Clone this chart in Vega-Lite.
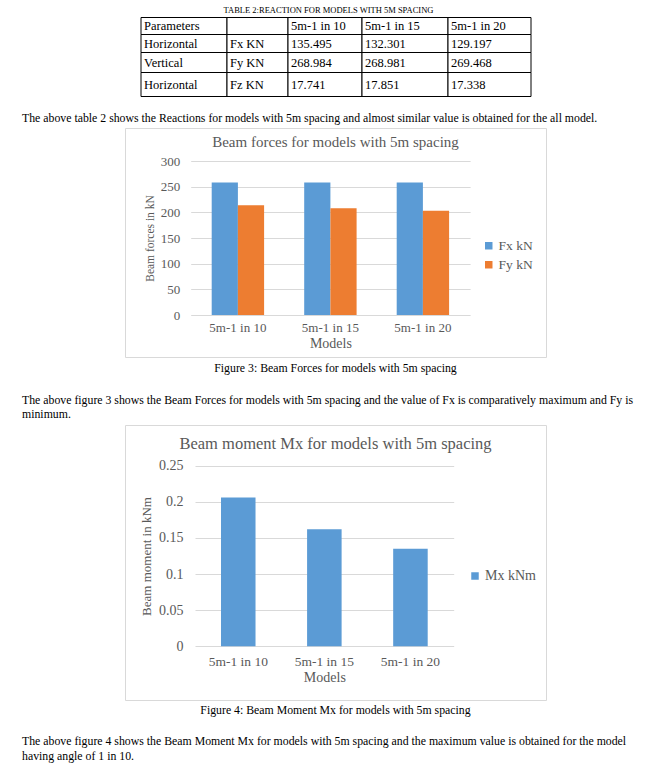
{
  "$schema": "https://vega.github.io/schema/vega-lite/v6.json",
  "background": "white",
  "padding": {"left": 22, "top": 0, "right": 10, "bottom": 0},
  "autosize": {"type": "pad"},
  "config": {"view": {"stroke": null}, "font": "Liberation Serif"},
  "datasets": {
    "table": [
      {"r": 0, "c": 0, "t": "Parameters"}, {"r": 0, "c": 1, "t": ""}, {"r": 0, "c": 2, "t": "5m-1 in 10"}, {"r": 0, "c": 3, "t": "5m-1 in 15"}, {"r": 0, "c": 4, "t": "5m-1 in 20"},
      {"r": 1, "c": 0, "t": "Horizontal"}, {"r": 1, "c": 1, "t": "Fx KN"}, {"r": 1, "c": 2, "t": "135.495"}, {"r": 1, "c": 3, "t": "132.301"}, {"r": 1, "c": 4, "t": "129.197"},
      {"r": 2, "c": 0, "t": "Vertical"}, {"r": 2, "c": 1, "t": "Fy KN"}, {"r": 2, "c": 2, "t": "268.984"}, {"r": 2, "c": 3, "t": "268.981"}, {"r": 2, "c": 4, "t": "269.468"},
      {"r": 3, "c": 0, "t": "Horizontal"}, {"r": 3, "c": 1, "t": "Fz KN"}, {"r": 3, "c": 2, "t": "17.741"}, {"r": 3, "c": 3, "t": "17.851"}, {"r": 3, "c": 4, "t": "17.338"}
    ],
    "forces": [
      {"model": "5m-1 in 10", "series": "Fx kN", "value": 258},
      {"model": "5m-1 in 10", "series": "Fy kN", "value": 214},
      {"model": "5m-1 in 15", "series": "Fx kN", "value": 258},
      {"model": "5m-1 in 15", "series": "Fy kN", "value": 208},
      {"model": "5m-1 in 20", "series": "Fx kN", "value": 258},
      {"model": "5m-1 in 20", "series": "Fy kN", "value": 203}
    ],
    "moment": [
      {"model": "5m-1 in 10", "series": "Mx kNm", "value": 0.206},
      {"model": "5m-1 in 15", "series": "Mx kNm", "value": 0.162},
      {"model": "5m-1 in 20", "series": "Mx kNm", "value": 0.135}
    ],
    "text": [
      {"block": "p1", "line": 0, "kind": "para", "text": "The above table 2 shows the Reactions for models with 5m spacing and almost similar value is obtained for the all model."},
      {"block": "d", "line": 0, "kind": "caption", "text": "Figure 3: Beam Forces for models with 5m spacing"},
      {"block": "d", "line": 1, "kind": "para", "text": "The above figure 3 shows the Beam Forces for models with 5m spacing and the value of Fx is comparatively maximum and Fy is"},
      {"block": "d", "line": 2, "kind": "para", "text": "minimum."},
      {"block": "f", "line": 0, "kind": "caption", "text": "Figure 4: Beam Moment Mx for models with 5m spacing"},
      {"block": "f", "line": 1, "kind": "para", "text": "The above figure 4 shows the Beam Moment Mx for models with 5m spacing and the maximum value is obtained for the model"},
      {"block": "f", "line": 2, "kind": "para", "text": "having angle of 1 in 10."}
    ]
  },
  "spacing": 0,
  "bounds": "flush",
  "center": true,
  "resolve": {"scale": {"color": "independent", "x": "independent", "y": "independent"}, "legend": {"color": "independent"}},
  "vconcat": [
    {
      "width": 390, "height": 108,
      "data": {"name": "table"},
      "title": {"text": "TABLE 2:REACTION FOR MODELS WITH 5M SPACING", "fontSize": 8.5, "font": "Liberation Serif", "fontWeight": "normal", "color": "black", "anchor": "middle", "frame": "group", "offset": -14, "dx": -7},
      "transform": [
        {"calculate": "datum.c + 1", "as": "c1"},
        {"calculate": "datum.r + 1", "as": "r1"},
        {"calculate": "datum.r + 0.5", "as": "rm"}
      ],
      "layer": [
        {
          "mark": {"type": "rect", "fill": "white", "stroke": "black", "strokeWidth": 1},
          "encoding": {
            "x": {"field": "c", "type": "quantitative", "scale": {"domain": [0, 1, 2, 3, 4, 5], "range": [0.5, 86.5, 147.5, 221.5, 307.5, 390.5], "zero": false, "nice": false}, "axis": null},
            "x2": {"field": "c1"},
            "y": {"field": "r", "type": "quantitative", "scale": {"domain": [0, 1, 2, 3, 4], "range": [17.5, 34.5, 52.5, 72.5, 96.5], "zero": false, "nice": false}, "axis": null},
            "y2": {"field": "r1"}
          }
        },
        {
          "mark": {"type": "text", "align": "left", "baseline": "middle", "dx": 3, "fontSize": 12.5, "font": "Liberation Serif", "color": "black"},
          "encoding": {
            "x": {"field": "c", "type": "quantitative"},
            "y": {"field": "rm", "type": "quantitative"},
            "text": {"field": "t"}
          }
        }
      ]
    },
    {
      "width": 627, "height": 20,
      "data": {"name": "text"},
      "transform": [{"filter": "datum.block == 'p1'"}],
      "mark": {"type": "text", "align": "left", "baseline": "middle", "fontSize": 11.8, "font": "Liberation Serif", "color": "black"},
      "encoding": {
        "x": {"datum": 0, "type": "quantitative", "scale": {"domain": [0, 1]}, "axis": null},
        "text": {"field": "text"}
      }
    },
    {
      "width": 421, "height": 229,
      "view": {"stroke": "#d9d9d9", "fill": "white"},
      "data": {"name": "forces"},
      "title": {"text": "Beam forces for models with 5m spacing", "fontSize": 15, "font": "Liberation Serif", "fontWeight": "normal", "color": "#595959", "anchor": "middle", "frame": "group", "offset": -22},
      "mark": {"type": "bar"},
      "encoding": {
        "x": {"field": "model", "type": "nominal", "sort": null,
          "scale": {"range": [65.7, 345.1], "paddingInner": 0.4335, "paddingOuter": 0.227},
          "axis": {"orient": "bottom", "offset": -42, "title": "Models", "labelAngle": 0, "domain": false, "ticks": false, "tickSize": 0, "labelPadding": 6, "labelFontSize": 13, "labelFont": "Liberation Serif", "labelColor": "#595959", "titleFontSize": 14, "titleFont": "Liberation Serif", "titleColor": "#595959", "titleFontWeight": "normal", "titlePadding": 2, "grid": false}},
        "xOffset": {"field": "series", "type": "nominal", "sort": null},
        "y": {"field": "value", "type": "quantitative",
          "scale": {"domain": [0, 300], "range": [187, 33], "nice": false, "zero": true},
          "axis": {"orient": "left", "offset": -65.7, "values": [0, 50, 100, 150, 200, 250, 300], "title": "Beam forces in kN", "domain": false, "ticks": false, "tickSize": 0, "labelPadding": 11, "labelFontSize": 13, "labelFont": "Liberation Serif", "labelColor": "#595959", "grid": true, "gridColor": "#d9d9d9", "gridWidth": 1, "titleFontSize": 11.5, "titleFont": "Liberation Serif", "titleColor": "#595959", "titleFontWeight": "normal", "titlePadding": 5}},
        "color": {"field": "series", "type": "nominal",
          "scale": {"domain": ["Fx kN", "Fy kN"], "range": ["#5B9BD5", "#ED7D31"]},
          "legend": {"orient": "none", "legendX": 357, "legendY": 111, "title": null, "symbolType": "square", "symbolSize": 56, "symbolStrokeWidth": 0, "labelOffset": 3, "labelFontSize": 13.5, "labelFont": "Liberation Serif", "labelColor": "#595959", "rowPadding": 4}}
      }
    },
    {
      "width": 627, "height": 68,
      "data": {"name": "text"},
      "transform": [{"filter": "datum.block == 'd'"}],
      "encoding": {
        "y": {"field": "line", "type": "quantitative", "scale": {"domain": [0, 1, 2], "range": [11, 43, 57], "zero": false, "nice": false}, "axis": null},
        "text": {"field": "text"}
      },
      "layer": [
        {"transform": [{"filter": "datum.kind == 'caption'"}], "mark": {"type": "text", "align": "center", "baseline": "middle", "fontSize": 11.8, "font": "Liberation Serif", "color": "black"}},
        {"transform": [{"filter": "datum.kind == 'para'"}], "mark": {"type": "text", "align": "left", "baseline": "middle", "fontSize": 11.8, "font": "Liberation Serif", "color": "black"},
         "encoding": {"x": {"datum": 0, "type": "quantitative", "scale": {"domain": [0, 1]}, "axis": null}}}
      ]
    },
    {
      "width": 421, "height": 275,
      "view": {"stroke": "#d9d9d9", "fill": "white"},
      "data": {"name": "moment"},
      "title": {"text": "Beam moment Mx for models with 5m spacing", "fontSize": 16.5, "font": "Liberation Serif", "fontWeight": "normal", "color": "#595959", "anchor": "middle", "frame": "group", "offset": -27},
      "mark": {"type": "bar"},
      "encoding": {
        "x": {"field": "model", "type": "nominal", "sort": null,
          "scale": {"range": [70, 328.7], "paddingInner": 0.599, "paddingOuter": 0.302},
          "axis": {"orient": "bottom", "offset": -53.7, "title": "Models", "labelAngle": 0, "domain": false, "ticks": false, "tickSize": 0, "labelPadding": 8, "labelFontSize": 13.5, "labelFont": "Liberation Serif", "labelColor": "#595959", "titleFontSize": 14, "titleFont": "Liberation Serif", "titleColor": "#595959", "titleFontWeight": "normal", "titlePadding": 3, "grid": false}},
        "y": {"field": "value", "type": "quantitative",
          "scale": {"domain": [0, 0.25], "range": [221.3, 40.7], "nice": false, "zero": true},
          "axis": {"orient": "left", "offset": -70, "values": [0, 0.05, 0.1, 0.15, 0.2, 0.25], "format": ".2~f", "title": "Beam moment in kNm", "domain": false, "ticks": false, "tickSize": 0, "labelPadding": 12, "labelFontSize": 14, "labelFont": "Liberation Serif", "labelColor": "#595959", "grid": true, "gridColor": "#d9d9d9", "gridWidth": 1, "titleFontSize": 13, "titleFont": "Liberation Serif", "titleColor": "#595959", "titleFontWeight": "normal", "titlePadding": 5}},
        "color": {"field": "series", "type": "nominal",
          "scale": {"domain": ["Mx kNm"], "range": ["#5B9BD5"]},
          "legend": {"orient": "none", "legendX": 343, "legendY": 144, "title": null, "symbolType": "square", "symbolSize": 56, "symbolStrokeWidth": 0, "labelOffset": 3, "labelFontSize": 14, "labelFont": "Liberation Serif", "labelColor": "#595959"}}
      }
    },
    {
      "width": 627, "height": 67,
      "data": {"name": "text"},
      "transform": [{"filter": "datum.block == 'f'"}],
      "encoding": {
        "y": {"field": "line", "type": "quantitative", "scale": {"domain": [0, 1, 2], "range": [10, 41, 56], "zero": false, "nice": false}, "axis": null},
        "text": {"field": "text"}
      },
      "layer": [
        {"transform": [{"filter": "datum.kind == 'caption'"}], "mark": {"type": "text", "align": "center", "baseline": "middle", "fontSize": 11.8, "font": "Liberation Serif", "color": "black"}},
        {"transform": [{"filter": "datum.kind == 'para'"}], "mark": {"type": "text", "align": "left", "baseline": "middle", "fontSize": 11.8, "font": "Liberation Serif", "color": "black"},
         "encoding": {"x": {"datum": 0, "type": "quantitative", "scale": {"domain": [0, 1]}, "axis": null}}}
      ]
    }
  ]
}
